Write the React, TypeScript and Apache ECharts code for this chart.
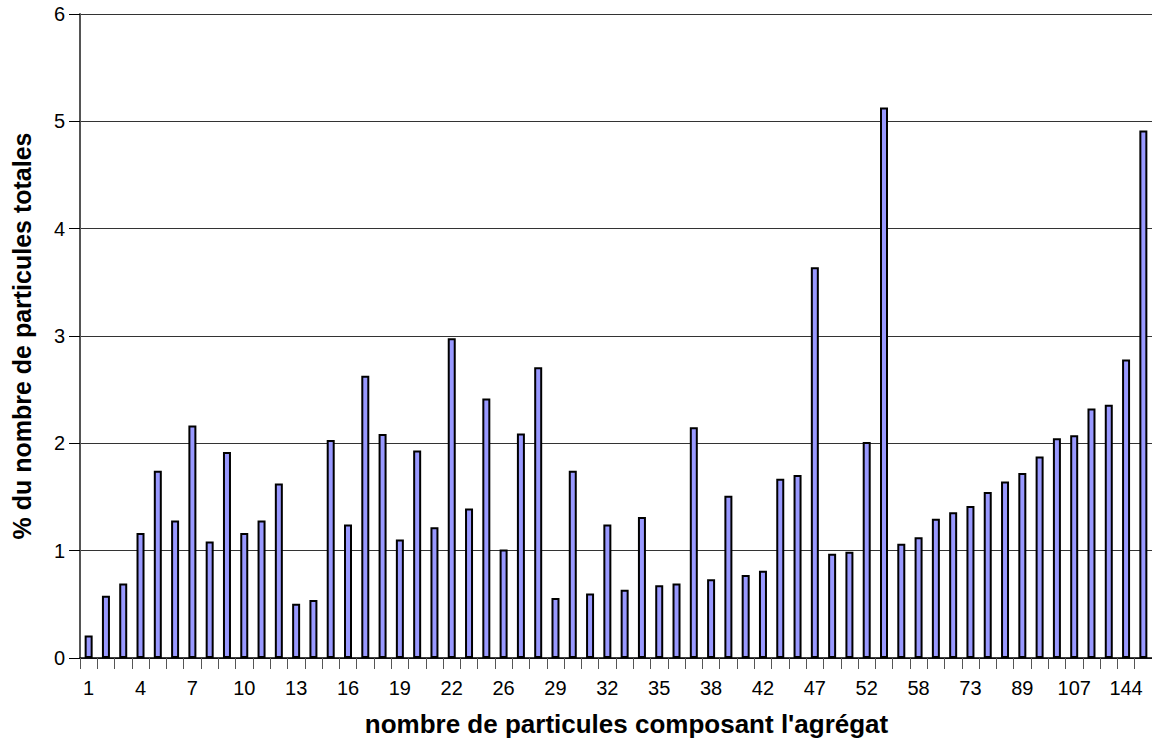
import React, { useEffect, useRef } from "react";
import * as echarts from "echarts";

const categories: string[] = [
  "1", "2", "3", "4", "5", "6", "7", "8", "9", "10", "11", "12", "13", "14", "15", "16", "17", "18", "19", "20", "21", "22",
  "23", "24", "26", "27", "28", "29", "30", "31", "32", "33", "34", "35", "36", "37", "38", "39", "40", "42", "43", "45",
  "47", "49", "50", "52", "54", "56", "58", "62", "67", "73", "78", "83", "89", "95", "101", "107", "115", "126", "144", "168",
];

const percentValues: number[] = [
  0.21, 0.58, 0.695, 1.165, 1.745, 1.28, 2.167, 1.086, 1.92, 1.165,
  1.28, 1.626, 0.505, 0.54, 2.03, 1.244, 2.63, 2.088, 1.103, 1.934,
  1.218, 2.98, 1.393, 2.418, 1.011, 2.092, 2.708, 0.558, 1.745, 0.602,
  1.244, 0.637, 1.314, 0.677, 0.695, 2.149, 0.734, 1.512, 0.774, 0.813,
  1.67, 1.705, 3.64, 0.971, 0.989, 2.013, 5.13, 1.064, 1.125, 1.297,
  1.358, 1.415, 1.547, 1.644, 1.723, 1.877, 2.048, 2.075, 2.325, 2.36,
  2.782, 4.914,
];

const xTitle = "nombre de particules composant l'agrégat";
const yTitle = "% du nombre de particules totales";

const FONT = "Arial, 'Liberation Sans', sans-serif";

export default function App() {
  const ref = useRef<HTMLDivElement>(null);
  useEffect(() => {
    if (!ref.current) return;
    const chart = echarts.init(ref.current, undefined, { renderer: "svg" });
    chart.setOption({
      animation: false,
      backgroundColor: "#ffffff",
      grid: { left: 80, top: 14, width: 1075, height: 646, containLabel: false },
      xAxis: {
        type: "category",
        data: categories,
        boundaryGap: true,
        name: xTitle,
        nameLocation: "middle",
        nameGap: 53,
        nameTextStyle: { fontFamily: FONT, fontWeight: "bold", fontSize: 26, color: "#000", padding: [0, 0, 0, 21] },
        axisLine: { lineStyle: { color: "#000", width: 1.5 } },
        axisTick: { show: true, alignWithLabel: false, interval: 0, length: 11, lineStyle: { color: "#555", width: 1 } },
        axisLabel: { interval: 2, margin: 20, fontFamily: FONT, fontSize: 20, color: "#000" },
        splitLine: { show: false },
      },
      yAxis: {
        type: "value",
        min: 0,
        max: 6,
        interval: 1,
        name: yTitle,
        nameLocation: "middle",
        nameGap: 46,
        nameTextStyle: { fontFamily: FONT, fontWeight: "bold", fontSize: 25, color: "#000" },
        axisLine: { show: true, lineStyle: { color: "#555", width: 2 } },
        axisTick: { show: true, length: 11, lineStyle: { color: "#000", width: 1 } },
        axisLabel: { margin: 15, fontFamily: FONT, fontSize: 20, color: "#000" },
        splitLine: { show: true, lineStyle: { color: "#333", width: 1 } },
      },
      series: [
        {
          type: "bar",
          data: percentValues,
          barWidth: 8,
          itemStyle: { color: "#9999ff", borderColor: "#000", borderWidth: 2 },
        },
      ],
    });
    return () => chart.dispose();
  }, []);
  return <div ref={ref} style={{ position: "absolute", left: 0, top: 0, width: 1152, height: 742 }} />;
}
